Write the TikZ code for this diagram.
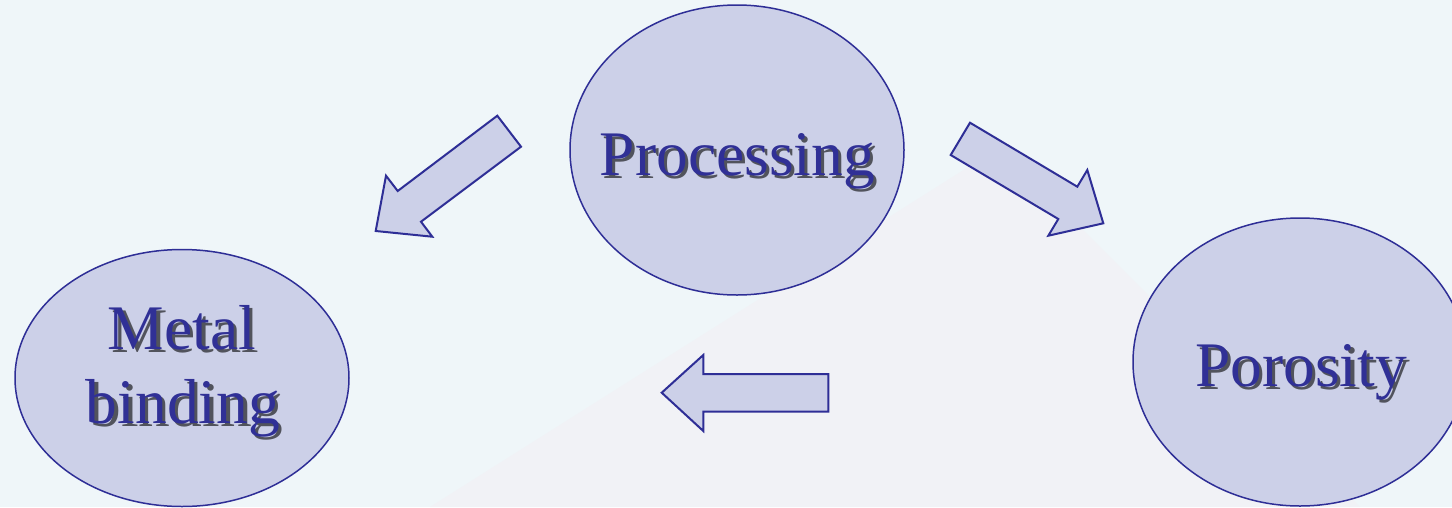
\documentclass[tikz,border=0pt]{standalone}
\usepackage{fontspec}
\setmainfont{Liberation Serif}
\usetikzlibrary{shapes.geometric}
\definecolor{bgA}{RGB}{239,246,249}
\definecolor{bgB}{RGB}{241,242,246}
\definecolor{fillL}{RGB}{204,208,232}
\definecolor{edgeB}{RGB}{46,46,150}
\definecolor{textB}{RGB}{48,48,150}
\tikzset{
  bubble/.style={ellipse, draw=edgeB, fill=fillL, line width=1.5pt, inner sep=0pt},
  blockarrow/.style={draw=edgeB, fill=fillL, line width=2pt, line join=miter},
  lbl/.style={anchor=base, inner sep=0pt, text=textB, font=\fontsize{63.5pt}{74pt}\selectfont},
  shadowlbl/.style={anchor=base, inner sep=0pt, text=black, opacity=0.6, font=\fontsize{63.5pt}{74pt}\selectfont}
}
\begin{document}
\begin{tikzpicture}[x=1pt,y=-1pt]
\useasboundingbox (0,0) rectangle (1452,507);
\fill[bgA] (0,0) rectangle (1452,507);
\fill[bgB] (1000,147) -- (1360,507) -- (430,507) -- cycle;
% bubbles
\node[bubble, minimum width=334pt, minimum height=290pt] (proc) at (737,150) {};
\node[bubble, minimum width=334pt, minimum height=257pt] (metal) at (182,378) {};
\node[bubble, minimum width=334pt, minimum height=288pt] (poro) at (1300,362) {};
% labels
\node[shadowlbl] (procS) at (740.5,178.5) {Processing};
\node[lbl] (procT) at (737.5,175) {Processing};
\node[shadowlbl] (metalS1) at (185.5,352.5) {Metal};
\node[lbl] (metalT1) at (182,349) {Metal};
\node[shadowlbl] (metalS2) at (186.5,426.5) {binding};
\node[lbl] (metalT2) at (183,423) {binding};
\node[shadowlbl] (poroS) at (1304.5,389.5) {Porosity};
\node[lbl] (poroT) at (1301,386) {Porosity};
% block arrows
\draw[blockarrow] (497.3,115.7) -- (521,146.7) -- (421,221.7) -- (432.3,236.7) -- (375.7,231) -- (386,175.7) -- (397.7,191) -- cycle;
\draw[blockarrow] (970,122.7) -- (950.7,155) -- (1058.3,219) -- (1048.3,235.7) -- (1103.3,223.3) -- (1087.3,170) -- (1077.3,186.7) -- cycle;
\draw[blockarrow] (828.3,374) -- (703.3,374) -- (703.3,355) -- (661.7,392.7) -- (703.3,431) -- (703.3,411.7) -- (828.3,411.7) -- cycle;
\end{tikzpicture}
\end{document}
